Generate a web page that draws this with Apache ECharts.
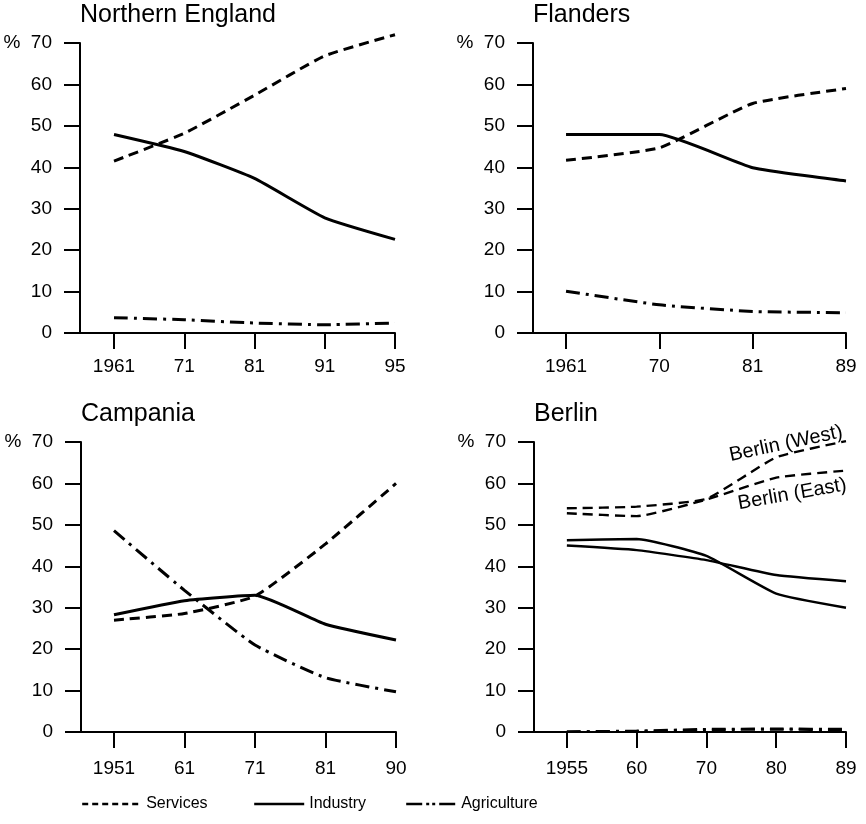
<!DOCTYPE html>
<html>
<head>
<meta charset="utf-8">
<title>Employment by sector</title>
<script src="https://cdn.jsdelivr.net/npm/echarts@6/dist/echarts.min.js"></script>
<style>
html, body { margin: 0; padding: 0; background: #fff; }
#chart { width: 866px; height: 824px; }
</style>
</head>
<body>
<div id="chart"></div>
<script>
// Northern England
var neYears = ['1961', '71', '81', '91', '95'];
var neServices = [41.5, 48.2, 57.4, 66.9, 72.0];
var neIndustry = [47.9, 43.8, 37.3, 27.8, 22.6];
var neAgriculture = [3.7, 3.2, 2.4, 2.0, 2.4];

// Flanders
var flYears = ['1961', '70', '81', '89'];
var flServices = [41.7, 44.7, 55.4, 59.0];
var flIndustry = [47.9, 47.9, 39.9, 36.7];
var flAgriculture = [10.1, 6.8, 5.2, 4.9];

// Campania
var caYears = ['1951', '61', '71', '81', '90'];
var caServices = [27.0, 28.6, 32.8, 45.4, 60.0];
var caIndustry = [28.3, 31.7, 33.0, 26.0, 22.2];
var caAgriculture = [48.6, 34.2, 21.0, 13.1, 9.7];

// Berlin (West / East)
var beYears = ['1955', '60', '70', '80', '89'];
var beWestServices = [54.0, 54.4, 56.3, 66.3, 70.2];
var beEastServices = [52.8, 52.1, 56.1, 61.4, 63.1];
var beWestIndustry = [46.3, 46.6, 42.5, 33.4, 30.0];
var beEastIndustry = [45.0, 43.9, 41.5, 37.9, 36.4];
var beWestAgriculture = [0.1, 0.3, 0.7, 0.8, 0.7];
var beEastAgriculture = [0.1, 0.2, 0.5, 0.6, 0.5];

var yTicks = [0, 10, 20, 30, 40, 50, 60, 70];
var panelTitles = ['Northern England', 'Flanders', 'Campania', 'Berlin'];
var sectorNames = ['Services', 'Industry', 'Agriculture'];

var FONT = 'Liberation Sans, Arial, Helvetica, sans-serif';
var INK = '#000';
var DASH_SERVICES = [10, 6];
var DASH_AGRI = [14, 6, 3, 6];

// grid boxes: left, top, width, x-min (gap before first year), label margin
var panels = [
	{ left: 80, top: 43, width: 315, xMin: -0.484, years: neYears, labelMargin: 24 },
	{ left: 533, top: 43, width: 313, xMin: -0.354, years: flYears, labelMargin: 24 },
	{ left: 81, top: 442, width: 315, xMin: -0.468, years: caYears, labelMargin: 27 },
	{ left: 534, top: 442, width: 312, xMin: -0.471, years: beYears, labelMargin: 27 }
];

function indexList(list) {
	var out = [];
	for (var i = 0; i < list.length; i++) {
		out.push(i);
	}
	return out;
}

function toPoints(values) {
	var out = [];
	for (var i = 0; i < values.length; i++) {
		out.push([i, values[i]]);
	}
	return out;
}

function lineSeries(name, values, idx, dash, width) {
	return {
		name: name,
		type: 'line',
		xAxisIndex: idx,
		yAxisIndex: idx,
		symbol: 'none',
		smooth: 0.15,
		clip: false,
		lineStyle: { color: INK, width: width || 3, type: dash || 'solid' },
		itemStyle: { color: INK },
		data: toPoints(values)
	};
}

function berlinLabel(text, x, y, rot) {
	return {
		symbol: 'circle',
		symbolSize: 0,
		silent: true,
		data: [{ coord: [x, y] }],
		label: {
			show: true,
			position: 'inside',
			formatter: text,
			rotate: rot,
			color: INK,
			fontFamily: FONT,
			fontSize: 20
		}
	};
}

var grids = [], xAxes = [], yAxes = [], titles = [];
for (var p = 0; p < panels.length; p++) {
	var pn = panels[p];
	grids.push({ left: pn.left, top: pn.top, width: pn.width, height: 290 });
	titles.push({
		text: panelTitles[p],
		left: pn.left,
		top: pn.top - 40,
		padding: 0,
		textStyle: { fontFamily: FONT, fontSize: 25, fontWeight: 'normal', color: INK }
	});
	(function (years) {
		xAxes.push({
			type: 'value',
			gridIndex: p,
			min: pn.xMin,
			max: years.length - 1,
			splitLine: { show: false },
			axisLine: { onZero: false, lineStyle: { color: INK, width: 2 } },
			axisTick: { show: true, length: 16, customValues: indexList(years), lineStyle: { color: INK, width: 2 } },
			axisLabel: {
				customValues: indexList(years),
				margin: pn.labelMargin,
				color: INK,
				fontFamily: FONT,
				fontSize: 19,
				formatter: function (v) {
					return years[Math.round(v)];
				}
			}
		});
	})(pn.years);
	yAxes.push({
		type: 'value',
		gridIndex: p,
		min: yTicks[0],
		max: yTicks[yTicks.length - 1],
		interval: 10,
		splitLine: { show: false },
		axisLine: { show: true, onZero: false, lineStyle: { color: INK, width: 2 } },
		axisTick: { show: true, length: 16, lineStyle: { color: INK, width: 2 } },
		axisLabel: {
			margin: 28,
			color: INK,
			fontFamily: FONT,
			fontSize: 19,
			formatter: function (v) {
				return v === 70 ? '%  70' : String(v);
			}
		}
	});
}

var series = [
	lineSeries('Services', neServices, 0, DASH_SERVICES),
	lineSeries('Industry', neIndustry, 0),
	lineSeries('Agriculture', neAgriculture, 0, DASH_AGRI),
	lineSeries('Services', flServices, 1, DASH_SERVICES),
	lineSeries('Industry', flIndustry, 1),
	lineSeries('Agriculture', flAgriculture, 1, DASH_AGRI),
	lineSeries('Services', caServices, 2, DASH_SERVICES),
	lineSeries('Industry', caIndustry, 2),
	lineSeries('Agriculture', caAgriculture, 2, DASH_AGRI),
	lineSeries('Services', beWestServices, 3, DASH_SERVICES, 2.4),
	lineSeries('Services', beEastServices, 3, DASH_SERVICES, 2.4),
	lineSeries('Industry', beWestIndustry, 3, null, 2.4),
	lineSeries('Industry', beEastIndustry, 3, null, 2.4),
	lineSeries('Agriculture', beWestAgriculture, 3, DASH_AGRI, 2.4),
	lineSeries('Agriculture', beEastAgriculture, 3, DASH_AGRI, 2.4)
];
// labels for the two Berlin service lines
series[9].markPoint = berlinLabel('Berlin (West)', 3.14, 69.6, 12);
series[10].markPoint = berlinLabel('Berlin (East)', 3.23, 57.4, 10);

// legend, one block per sector so each can sit where it does in the original
var legendLeft = [81, 253, 405];
var legendIconW = [59, 50, 50];
var legendDash = [[6, 4], 'solid', [16, 4, 3, 3, 3, 4]];
var legends = [];
for (var k = 0; k < sectorNames.length; k++) {
	legends.push({
		data: [sectorNames[k]],
		left: legendLeft[k],
		top: 796,
		padding: 0,
		itemWidth: legendIconW[k],
		itemHeight: 14,
		selectedMode: false,
		itemStyle: { color: 'transparent', borderWidth: 0, opacity: 0 },
		lineStyle: { type: legendDash[k], width: 2.4 },
		textStyle: { fontFamily: FONT, fontSize: 16, color: INK }
	});
}

var chart = echarts.init(document.getElementById('chart'));
chart.setOption({
	backgroundColor: '#fff',
	animation: false,
	title: titles,
	legend: legends,
	grid: grids,
	xAxis: xAxes,
	yAxis: yAxes,
	series: series
});
</script>
</body>
</html>
